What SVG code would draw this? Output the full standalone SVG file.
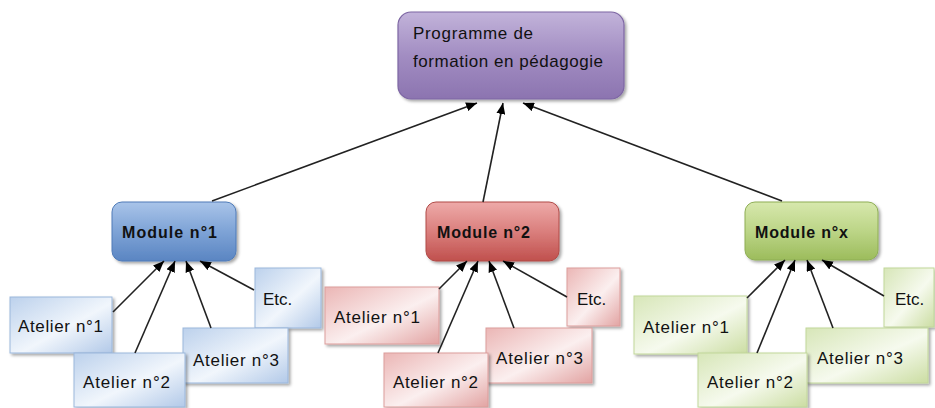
<svg xmlns="http://www.w3.org/2000/svg" width="935" height="408" viewBox="0 0 935 408">
<defs>
<linearGradient id="gPurple" x1="0" y1="0" x2="0" y2="1">
<stop offset="0" stop-color="#c2b3da"/><stop offset="0.5" stop-color="#a28dc2"/><stop offset="1" stop-color="#8c74b0"/>
</linearGradient>
<linearGradient id="gBlue" x1="0" y1="0" x2="0" y2="1">
<stop offset="0" stop-color="#a9c4e9"/><stop offset="0.5" stop-color="#7ea3d6"/><stop offset="1" stop-color="#5a85c2"/>
</linearGradient>
<linearGradient id="gRed" x1="0" y1="0" x2="0" y2="1">
<stop offset="0" stop-color="#eeaaa9"/><stop offset="0.5" stop-color="#da7f7d"/><stop offset="1" stop-color="#c0504d"/>
</linearGradient>
<linearGradient id="gGreen" x1="0" y1="0" x2="0" y2="1">
<stop offset="0" stop-color="#d7e8ad"/><stop offset="0.5" stop-color="#bcd587"/><stop offset="1" stop-color="#9cbc5c"/>
</linearGradient>
<linearGradient id="aBlue" x1="0" y1="0" x2="1" y2="1">
<stop offset="0" stop-color="#bcd1ec"/><stop offset="0.55" stop-color="#f1f6fc"/><stop offset="1" stop-color="#b2c9e8"/>
</linearGradient>
<linearGradient id="aRed" x1="0" y1="0" x2="1" y2="1">
<stop offset="0" stop-color="#ebb6b5"/><stop offset="0.55" stop-color="#fbefef"/><stop offset="1" stop-color="#e2a3a2"/>
</linearGradient>
<linearGradient id="aGreen" x1="0" y1="0" x2="1" y2="1">
<stop offset="0" stop-color="#d7e6b8"/><stop offset="0.55" stop-color="#f6faee"/><stop offset="1" stop-color="#cbdda2"/>
</linearGradient>
<filter id="sh" x="-10%" y="-10%" width="125%" height="130%">
<feDropShadow dx="2" dy="2" stdDeviation="1.5" flood-color="#000" flood-opacity="0.35"/>
</filter>
<marker id="ah" markerWidth="11" markerHeight="9" refX="11" refY="4.5" orient="auto" markerUnits="userSpaceOnUse">
<path d="M0,0 L11,4.5 L0,9 Z" fill="#000"/>
</marker>
</defs>
<style>
.t{font-family:"Liberation Sans",Arial,sans-serif;font-size:17px;fill:#111}
.b{font-family:"Liberation Sans",Arial,sans-serif;font-size:16px;font-weight:bold;fill:#111}
.c{stroke:#222;stroke-width:1.6;fill:none;marker-end:url(#ah)}
.ab{fill:url(#aBlue);stroke:#9bb7dc;stroke-width:1}
.ar{fill:url(#aRed);stroke:#dc9d9b;stroke-width:1}
.ag{fill:url(#aGreen);stroke:#c2d79a;stroke-width:1}
</style>

<g id="top">
<rect x="398" y="12" width="226" height="87" rx="13" fill="url(#gPurple)" stroke="#7d66a3" stroke-width="1.2" filter="url(#sh)"/>
<text class="t" x="413" y="39" textLength="120">Programme de</text>
<text class="t" x="413" y="67" textLength="190">formation en pédagogie</text>
</g>

<g id="module1">
<rect x="112" y="202" width="124" height="59" rx="10" fill="url(#gBlue)" stroke="#4f7bb8" stroke-width="1" filter="url(#sh)"/>
<text class="b" x="122" y="238" textLength="95">Module  n°1</text>
</g>
<g id="module2">
<rect x="426" y="202" width="133" height="59" rx="10" fill="url(#gRed)" stroke="#b04a47" stroke-width="1" filter="url(#sh)"/>
<text class="b" x="437" y="238" textLength="93">Module  n°2</text>
</g>
<g id="modulex">
<rect x="745" y="202" width="133" height="58" rx="10" fill="url(#gGreen)" stroke="#8eae55" stroke-width="1" filter="url(#sh)"/>
<text class="b" x="755" y="238" textLength="93">Module  n°x</text>
</g>

<g id="b-etc"><rect class="ab" x="255" y="268" width="66" height="60" filter="url(#sh)"/><text class="t" x="263" y="305">Etc.</text></g>
<g id="b-a1"><rect class="ab" x="10" y="297" width="102" height="56" filter="url(#sh)"/><text class="t" x="18" y="332" textLength="85">Atelier n°1</text></g>
<g id="b-a3"><rect class="ab" x="183" y="328" width="105" height="55" filter="url(#sh)"/><text class="t" x="193" y="366" textLength="86">Atelier n°3</text></g>
<g id="b-a2"><rect class="ab" x="74" y="353" width="111" height="54" filter="url(#sh)"/><text class="t" x="83" y="388" textLength="87">Atelier n°2</text></g>

<g id="r-etc"><rect class="ar" x="567" y="268" width="53" height="58" filter="url(#sh)"/><text class="t" x="577" y="305">Etc.</text></g>
<g id="r-a1"><rect class="ar" x="325" y="287" width="114" height="57" filter="url(#sh)"/><text class="t" x="334" y="323" textLength="86">Atelier n°1</text></g>
<g id="r-a3"><rect class="ar" x="486" y="328" width="106" height="55" filter="url(#sh)"/><text class="t" x="496" y="364" textLength="87">Atelier n°3</text></g>
<g id="r-a2"><rect class="ar" x="384" y="353" width="104" height="54" filter="url(#sh)"/><text class="t" x="393" y="388" textLength="85">Atelier n°2</text></g>

<g id="g-etc"><rect class="ag" x="884" y="268" width="50" height="59" filter="url(#sh)"/><text class="t" x="895" y="305">Etc.</text></g>
<g id="g-a1"><rect class="ag" x="634" y="296" width="113" height="58" filter="url(#sh)"/><text class="t" x="643" y="333" textLength="86">Atelier n°1</text></g>
<g id="g-a3"><rect class="ag" x="806" y="328" width="122" height="55" filter="url(#sh)"/><text class="t" x="817" y="364" textLength="86">Atelier n°3</text></g>
<g id="g-a2"><rect class="ag" x="698" y="353" width="109" height="54" filter="url(#sh)"/><text class="t" x="707" y="388" textLength="86">Atelier n°2</text></g>

<g id="connectors">
<line class="c" x1="212" y1="201" x2="477" y2="103"/>
<line class="c" x1="483" y1="202" x2="503" y2="103"/>
<line class="c" x1="782" y1="201" x2="523" y2="103"/>

<line class="c" x1="113" y1="312" x2="164" y2="261"/>
<line class="c" x1="135" y1="353" x2="175" y2="261"/>
<line class="c" x1="211" y1="328" x2="186" y2="261"/>
<line class="c" x1="254" y1="290" x2="200" y2="261"/>

<line class="c" x1="439" y1="289" x2="467" y2="261"/>
<line class="c" x1="438" y1="353" x2="478" y2="261"/>
<line class="c" x1="514" y1="328" x2="489" y2="261"/>
<line class="c" x1="567" y1="297" x2="503" y2="261"/>

<line class="c" x1="747" y1="298" x2="785" y2="260"/>
<line class="c" x1="757" y1="353" x2="795" y2="260"/>
<line class="c" x1="833" y1="328" x2="807" y2="260"/>
<line class="c" x1="884" y1="296" x2="822" y2="260"/>
</g>
</svg>
